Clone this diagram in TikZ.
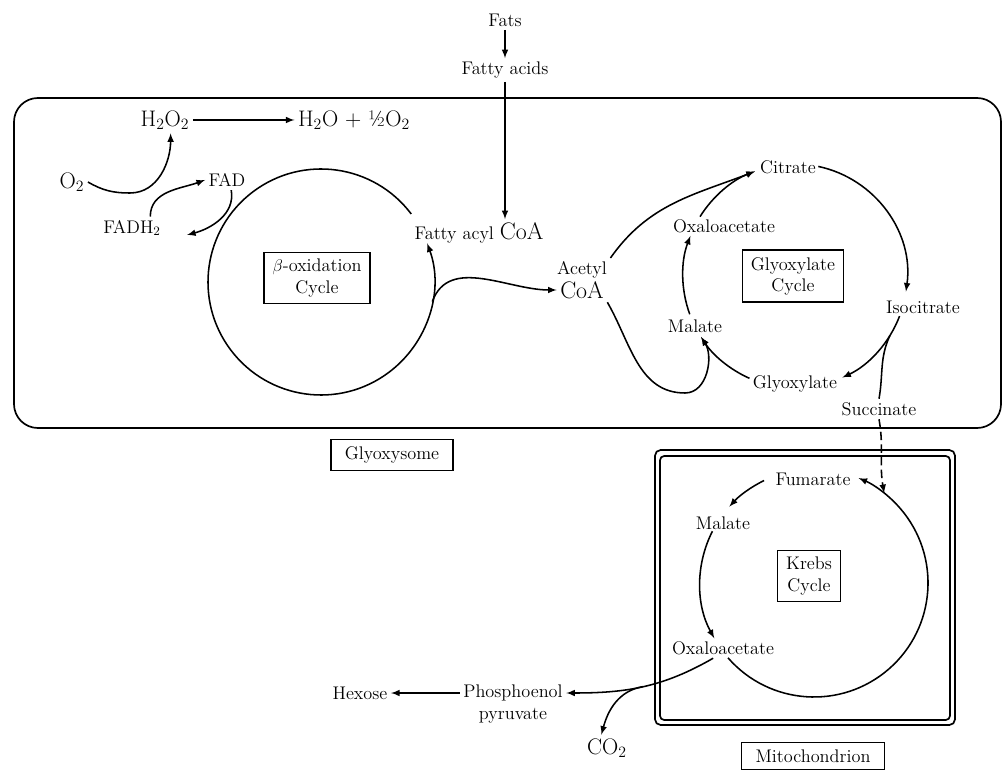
\documentclass[tikz,border=0pt]{standalone}
\usepackage{tikz}
\usetikzlibrary{positioning}

\begin{document}
\begin{tikzpicture}[x=0.025cm, y=0.025cm, >=latex, line width=1.1pt, font=\fontsize{13}{15}\selectfont,
   every node/.style={inner sep=2pt},
   big/.style={font=\fontsize{16}{18}\selectfont},
   cyclebox/.style={draw, line width=1pt, align=center, inner xsep=6pt, inner ysep=5pt},
   namebox/.style={draw, line width=1pt, inner xsep=10pt, inner ysep=5pt}]
   \useasboundingbox (0,0) rectangle (1003,770);
   % glyoxysome
   \draw[line width=1.2pt, rounded corners=17pt] (14,342) rectangle (1001,672);
   \node[namebox] (glyoxysome) at (392,315) {Glyoxysome};
   \node (fats)       at (505,750) {Fats};
   \node (fattyacids) at (505,700) {Fatty acids};
   \node (facoa)      at (479,537) {Fatty acyl {\fontsize{17}{19}\selectfont CoA}};
   \node[big] (h2o2)  at (165,650) {H\textsubscript{2}O\textsubscript{2}};
   \node[big] (h2o)   at (354,650) {H\textsubscript{2}O + \textonehalf O\textsubscript{2}};
   \node[big] (o2)    at (72,588)  {O\textsubscript{2}};
   \node (fad)        at (227,590) {FAD};
   \node (fadh2)      at (132,542) {FADH\textsubscript{2}};
   \coordinate (fadtip) at (187,535);
   \coordinate (o2low)  at (130,577);
   \coordinate (bcen)   at (321,488);
   \node[cyclebox] (betabox) at (317,492) {$\beta$-oxidation\\Cycle};
   \node (acetyl) at (582,500) {Acetyl};
   \node[font=\fontsize{17}{19}\selectfont] (coa) at (582,480) {CoA};
   % glyoxylate cycle
   \coordinate (gcen) at (795,494);
   \coordinate (loop) at (685,377);
   \node[cyclebox] (glxbox) at (793,494) {Glyoxylate\\Cycle};
   \node (citrate)    at (788,603) {Citrate};
   \node (oaa)        at (724,544) {Oxaloacetate};
   \node (malate)     at (695,444) {Malate};
   \node (glyoxylate) at (795,386) {Glyoxylate};
   \node (isocitrate) at (923,463) {Isocitrate};
   \node (succinate)  at (879,361) {Succinate};
   % mitochondrion
   \draw[line width=1.2pt, rounded corners=4pt] (655,45) rectangle (955,320);
   \draw[line width=1.2pt, rounded corners=3pt] (660,50) rectangle (950,314);
   \node[namebox] (mito) at (813,14) {Mitochondrion};
   \coordinate (kcen) at (814,187);
   \node[cyclebox] (krebsbox) at (809,194) {Krebs\\Cycle};
   \node (fumarate) at (813,291) {Fumarate};
   \node (malate2)  at (723,247) {Malate};
   \node (oaa2)     at (723,122) {Oxaloacetate};
   \node (pep)      at (513,77)  {Phosphoenol};
   \node (pyruvate) [below=0pt of pep] {pyruvate};
   \node (hexose)   at (360,77)  {Hexose};
   \node[big] (co2) at (607,22)  {CO\textsubscript{2}};

   \draw[->] (fats) -- (fattyacids);
   \draw[->] (fattyacids.south) -- (fattyacids.south |- facoa.north);
   \draw[->] (h2o2) -- (h2o);
   \draw[->] (o2.east) to[out=-30,in=180] (o2low) to[out=0,in=-90] ([xshift=4pt]h2o2.south);
   \draw[->] ([xshift=13pt]fadh2.north) to[out=90,in=200] (fad.west);
   \draw[->] ([xshift=3pt]fad.south) to[out=-80,in=15] (fadtip);
   \draw[->] ([shift={(37:113)}]bcen) arc[start angle=37, end angle=380, radius=113];
   \draw[->] ([shift={(-10:113)}]bcen) to[out=70,in=180] (coa.west);
   % glyoxylate arcs
   \draw[->] ([shift={(78:112)}]gcen) arc[start angle=78, end angle=-8, radius=112];
   \draw[->] ([shift={(-21:112)}]gcen) arc[start angle=-21, end angle=-65, radius=112];
   \draw[->] ([shift={(-114:112)}]gcen) arc[start angle=-114, end angle=-147, radius=112];
   \draw[->] ([shift={(-160:112)}]gcen) arc[start angle=-160, end angle=-201, radius=112];
   \draw[->] ([shift={(148:112)}]gcen) arc[start angle=148, end angle=111, radius=112];
   \draw[->] (acetyl.north east) to[out=55,in=201] ([shift={(111:112)}]gcen);
   \draw[->] (coa.south east) to[out=-60,in=180] (loop) to[out=0,in=-57] ([shift={(-147:112)}]gcen);
   \draw ([shift={(-32:112)}]gcen) to[out=-115,in=80] (succinate.north);
   \draw[->, dash pattern=on 6pt off 3pt] (succinate.south) to[out=-80,in=100] ([shift={(52:114)}]kcen);
   % krebs arcs
   \draw[->] ([shift={(-139:114)}]kcen) arc[start angle=-139, end angle=67, radius=114];
   \draw[->] ([shift={(116:114)}]kcen) arc[start angle=116, end angle=138, radius=114];
   \draw[->] ([shift={(153:114)}]kcen) arc[start angle=153, end angle=209, radius=114];
   \draw[->] ([xshift=-7pt]oaa2.south) to[out=-150,in=0] node[coordinate, pos=0.5] (split) {} (pep.east);
   \draw[->] (split) to[out=190,in=75] ([xshift=-4pt]co2.north);
   \draw[->] (pep) -- (hexose);
\end{tikzpicture}
\end{document}
